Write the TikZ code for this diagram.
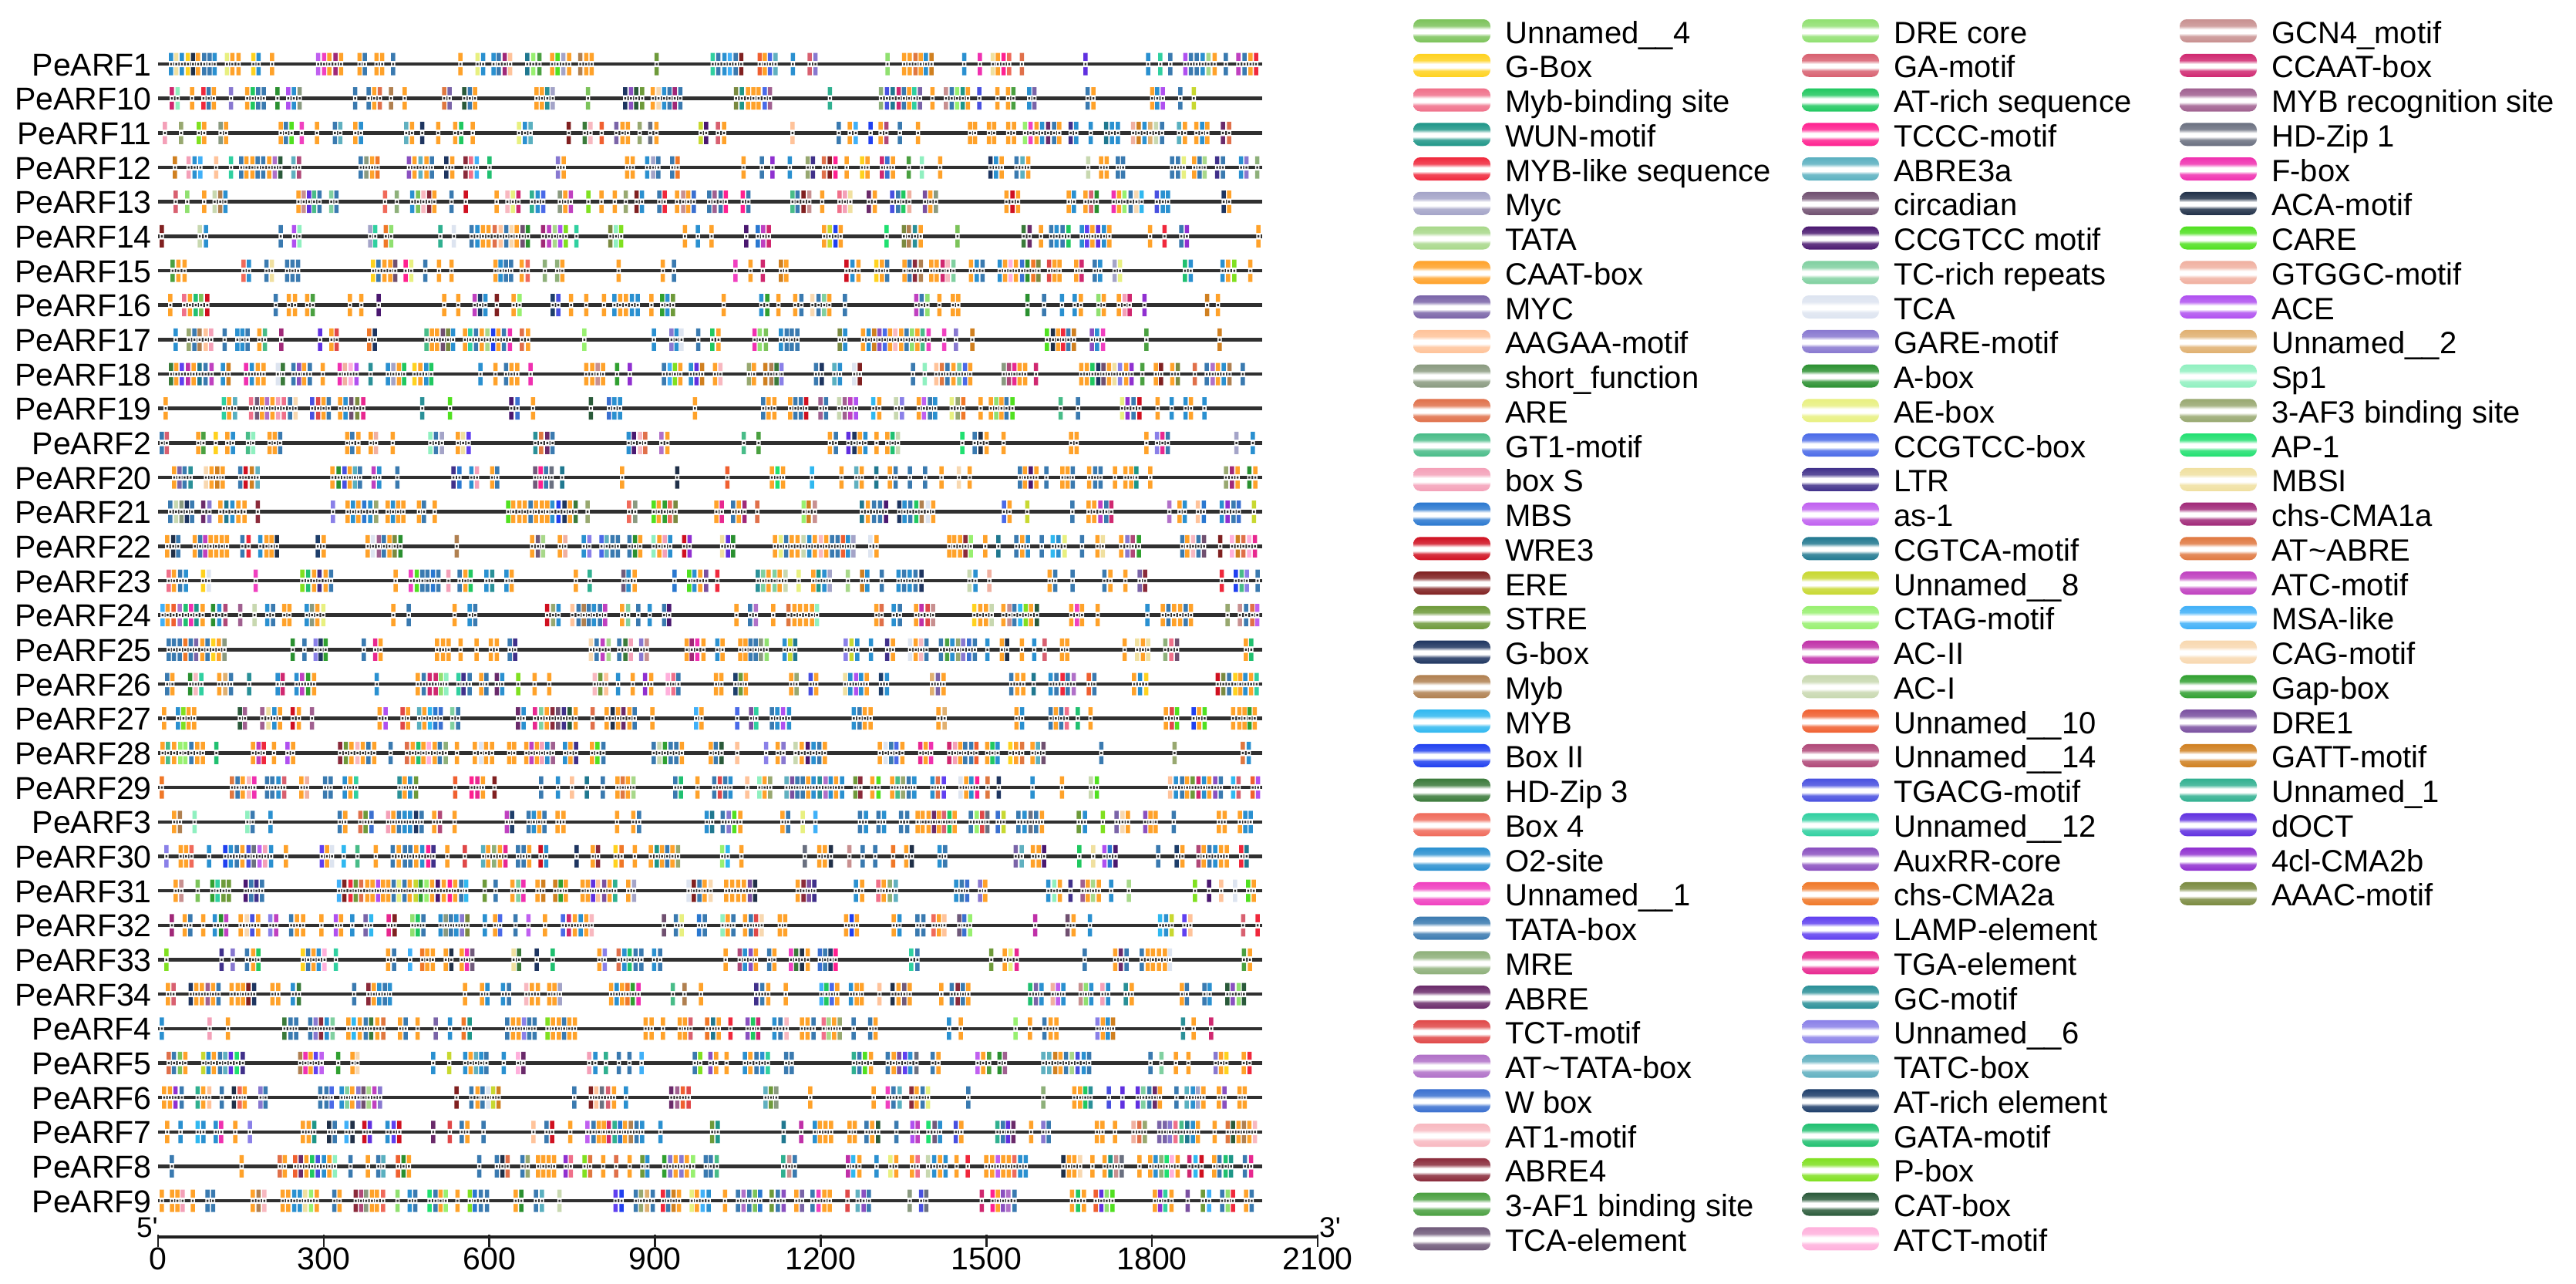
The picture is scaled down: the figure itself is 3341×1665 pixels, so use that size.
\documentclass[tikz,border=0pt]{standalone}
\usepackage{fontspec}
\setmainfont{Liberation Sans}
% legend colours, column 1
\definecolor{lc1}{HTML}{7CC35A}\definecolor{lc2}{HTML}{FFD21F}\definecolor{lc3}{HTML}{F0708A}
\definecolor{lc4}{HTML}{1E9688}\definecolor{lc5}{HTML}{F0283C}\definecolor{lc6}{HTML}{A4A4C8}
\definecolor{lc7}{HTML}{A8D88A}\definecolor{lc8}{HTML}{FFA22A}\definecolor{lc9}{HTML}{7A64A8}
\definecolor{lc10}{HTML}{FFC39A}\definecolor{lc11}{HTML}{8A9A80}\definecolor{lc12}{HTML}{E0704A}
\definecolor{lc13}{HTML}{48BC88}\definecolor{lc14}{HTML}{F4A0B8}\definecolor{lc15}{HTML}{2A78D0}
\definecolor{lc16}{HTML}{D01020}\definecolor{lc17}{HTML}{802020}\definecolor{lc18}{HTML}{6E9A3A}
\definecolor{lc19}{HTML}{1E3560}\definecolor{lc20}{HTML}{B08050}\definecolor{lc21}{HTML}{30B8F0}
\definecolor{lc22}{HTML}{2040F0}\definecolor{lc23}{HTML}{3A7A3A}\definecolor{lc24}{HTML}{F06A5A}
\definecolor{lc25}{HTML}{2A90D0}\definecolor{lc26}{HTML}{F040C0}\definecolor{lc27}{HTML}{3A7AB0}
\definecolor{lc28}{HTML}{8EB07A}\definecolor{lc29}{HTML}{6A2A6A}\definecolor{lc30}{HTML}{E04848}
\definecolor{lc31}{HTML}{B070C8}\definecolor{lc32}{HTML}{3A70D0}\definecolor{lc33}{HTML}{F8B8C0}
\definecolor{lc34}{HTML}{8A2A3A}\definecolor{lc35}{HTML}{4AA040}\definecolor{lc36}{HTML}{705A7A}
% column 2
\definecolor{lc37}{HTML}{90E070}\definecolor{lc38}{HTML}{D86070}\definecolor{lc39}{HTML}{20C860}
\definecolor{lc40}{HTML}{FF2090}\definecolor{lc41}{HTML}{5AB0C0}\definecolor{lc42}{HTML}{705070}
\definecolor{lc43}{HTML}{4A1870}\definecolor{lc44}{HTML}{80D0A0}\definecolor{lc45}{HTML}{DDE4F0}
\definecolor{lc46}{HTML}{8878D0}\definecolor{lc47}{HTML}{2A9030}\definecolor{lc48}{HTML}{E8F080}
\definecolor{lc49}{HTML}{4A6AE8}\definecolor{lc50}{HTML}{40308A}\definecolor{lc51}{HTML}{C060F0}
\definecolor{lc52}{HTML}{207890}\definecolor{lc53}{HTML}{C8D830}\definecolor{lc54}{HTML}{98F070}
\definecolor{lc55}{HTML}{C030A8}\definecolor{lc56}{HTML}{C8D8B0}\definecolor{lc57}{HTML}{F06030}
\definecolor{lc58}{HTML}{B04878}\definecolor{lc59}{HTML}{4850E0}\definecolor{lc60}{HTML}{30D0A0}
\definecolor{lc61}{HTML}{8A50C0}\definecolor{lc62}{HTML}{F07828}\definecolor{lc63}{HTML}{6040F0}
\definecolor{lc64}{HTML}{E82890}\definecolor{lc65}{HTML}{2A9098}\definecolor{lc66}{HTML}{8A80E8}
\definecolor{lc67}{HTML}{60B0C0}\definecolor{lc68}{HTML}{1E3E6A}\definecolor{lc69}{HTML}{20C070}
\definecolor{lc70}{HTML}{80E020}\definecolor{lc71}{HTML}{2A5A3A}\definecolor{lc72}{HTML}{FFB0DC}
% column 3
\definecolor{lc73}{HTML}{C89090}\definecolor{lc74}{HTML}{D02870}\definecolor{lc75}{HTML}{A06090}
\definecolor{lc76}{HTML}{6A7080}\definecolor{lc77}{HTML}{F030B0}\definecolor{lc78}{HTML}{203048}
\definecolor{lc79}{HTML}{50E020}\definecolor{lc80}{HTML}{F0B0A0}\definecolor{lc81}{HTML}{B050F0}
\definecolor{lc82}{HTML}{E0B070}\definecolor{lc83}{HTML}{90F0C0}\definecolor{lc84}{HTML}{98A870}
\definecolor{lc85}{HTML}{20E070}\definecolor{lc86}{HTML}{F0E0A0}\definecolor{lc87}{HTML}{A02878}
\definecolor{lc88}{HTML}{E07840}\definecolor{lc89}{HTML}{C040C0}\definecolor{lc90}{HTML}{40B0F8}
\definecolor{lc91}{HTML}{F8D8B0}\definecolor{lc92}{HTML}{30A030}\definecolor{lc93}{HTML}{7A50A0}
\definecolor{lc94}{HTML}{D08020}\definecolor{lc95}{HTML}{30B090}\definecolor{lc96}{HTML}{6030E0}
\definecolor{lc97}{HTML}{9030D0}\definecolor{lc98}{HTML}{7A8A40}
\definecolor{linegray}{HTML}{303030}
\tikzset{
  genelabel/.style={anchor=base east, inner sep=0pt, font=\fontsize{41}{48}\selectfont},
  legtext/.style={anchor=base west, inner sep=0pt, font=\fontsize{40}{48}\selectfont},
  axislabel/.style={anchor=base, inner sep=0pt, font=\fontsize{41}{48}\selectfont},
  primelabel/.style={inner sep=0pt, font=\fontsize{37}{44}\selectfont},
  geneline/.style={line width=4.5pt, color=linegray},
  axisline/.style={line width=4.5pt, color=black!88},
  axistick/.style={line width=2.5pt, color=black!88}
}
\begin{document}
\begin{tikzpicture}[x=1pt,y=-1pt]
\useasboundingbox[fill=white] (0,0) rectangle (3341,1665);

% ---------------- gene tracks ----------------
\pgfmathsetseed{2024}
\foreach \g [count=\i from 0] in {PeARF1,PeARF10,PeARF11,PeARF12,PeARF13,PeARF14,PeARF15,PeARF16,PeARF17,PeARF18,PeARF19,PeARF2,PeARF20,PeARF21,PeARF22,PeARF23,PeARF24,PeARF25,PeARF26,PeARF27,PeARF28,PeARF29,PeARF3,PeARF30,PeARF31,PeARF32,PeARF33,PeARF34,PeARF4,PeARF5,PeARF6,PeARF7,PeARF8,PeARF9}{
  \pgfmathsetmacro\ry{83+44.67*\i}
  \node[genelabel] (g\i) at (197,\ry+15) {\g};
  \coordinate (s\i) at (205,\ry);
  \coordinate (e\i) at (1637,\ry);
  \draw[geneline] (s\i) -- (e\i);
  \gdef\wpath{}\gdef\dpath{}%
  \pgfmathrandominteger\px{2}{20}%
  \pgfmathsetmacro\px{205+\px}%
  \loop
    \pgfmathrandominteger\r{1}{100}%
    \ifnum\r<27 \def\cc{lc8}\else\ifnum\r<40 \def\cc{lc27}\else\ifnum\r<49 \def\cc{lc25}\else
      \pgfmathrandominteger\kk{1}{98}\edef\cc{lc\kk}\fi\fi\fi
    \fill[color=\cc] (\px,\ry-14.5) rectangle ++(5.5,10.5) (\px,\ry+4) rectangle ++(5.5,10.5);
    \xdef\wpath{\wpath (\px,\ry-4) rectangle ++(5.5,8)}%
    \xdef\dpath{\dpath (\px+1.5,\ry-1.5) rectangle ++(2.5,3)}%
    \pgfmathrandominteger\r{1}{100}%
    \ifnum\r<61 \pgfmathsetmacro\st{6.5+1.5*rnd}\else\ifnum\r<89 \pgfmathsetmacro\st{13+11*rnd}\else\pgfmathsetmacro\st{35+65*rnd}\fi\fi
    \pgfmathsetmacro\px{\px+\st}%
  \ifdim\px pt<1630pt \repeat
  \fill[white] \wpath;
  \fill[linegray] \dpath;
}

% ---------------- axis ----------------
\coordinate (a0) at (205,1604);
\coordinate (a1) at (1709,1604);
\draw[axisline] (a0) -- (a1);
\foreach \v [count=\j from 0] in {0,300,...,2100}{
  \pgfmathsetmacro\tx{205+214.86*\j}
  \draw[axistick] (\tx,1601) -- (\tx,1617);
  \node[axislabel] (t\j) at (\tx,1646) {\v};
}
\node[primelabel, anchor=base east] (five) at (205,1604) {5\textquotesingle};
\node[primelabel, anchor=base west] (three) at (1711,1604) {3\textquotesingle};

% ---------------- legend ----------------
\foreach \t [count=\k from 1] in {Unnamed\_\_4,G-Box,Myb-binding site,WUN-motif,MYB-like sequence,Myc,TATA,CAAT-box,MYC,AAGAA-motif,short\_function,ARE,GT1-motif,box S,MBS,WRE3,ERE,STRE,G-box,Myb,MYB,Box II,HD-Zip 3,Box 4,O2-site,Unnamed\_\_1,TATA-box,MRE,ABRE,TCT-motif,AT\textasciitilde TATA-box,W box,AT1-motif,ABRE4,3-AF1 binding site,TCA-element,
DRE core,GA-motif,AT-rich sequence,TCCC-motif,ABRE3a,circadian,CCGTCC motif,TC-rich repeats,TCA,GARE-motif,A-box,AE-box,CCGTCC-box,LTR,as-1,CGTCA-motif,Unnamed\_\_8,CTAG-motif,AC-II,AC-I,Unnamed\_\_10,Unnamed\_\_14,TGACG-motif,Unnamed\_\_12,AuxRR-core,chs-CMA2a,LAMP-element,TGA-element,GC-motif,Unnamed\_\_6,TATC-box,AT-rich element,GATA-motif,P-box,CAT-box,ATCT-motif,
GCN4\_motif,CCAAT-box,MYB recognition site,HD-Zip 1,F-box,ACA-motif,CARE,GTGGC-motif,ACE,Unnamed\_\_2,Sp1,3-AF3 binding site,AP-1,MBSI,chs-CMA1a,AT\textasciitilde ABRE,ATC-motif,MSA-like,CAG-motif,Gap-box,DRE1,GATT-motif,Unnamed\_1,dOCT,4cl-CMA2b,AAAC-motif}{
  \pgfmathtruncatemacro\col{(\k-1)/36}
  \pgfmathtruncatemacro\row{\k-1-36*\col}
  \pgfmathsetmacro\sx{\col==0 ? 1833 : (\col==1 ? 2337 : 2827)}
  \pgfmathsetmacro\cy{40+44.75*\row}
  \pgfdeclareverticalshading{legsh\k}{100bp}{color(0bp)=(lc\k); color(25bp)=(lc\k); color(38bp)=(lc\k!85); color(45bp)=(white); color(53bp)=(white); color(61bp)=(lc\k!85); color(75bp)=(lc\k); color(100bp)=(lc\k)}
  \shade[shading=legsh\k, rounded corners=9pt] (\sx,\cy-15) rectangle (\sx+100,\cy+15);
  \node[legtext] (leg\k) at (\sx+119,\cy+16) {\t};
}
\end{tikzpicture}
\end{document}
